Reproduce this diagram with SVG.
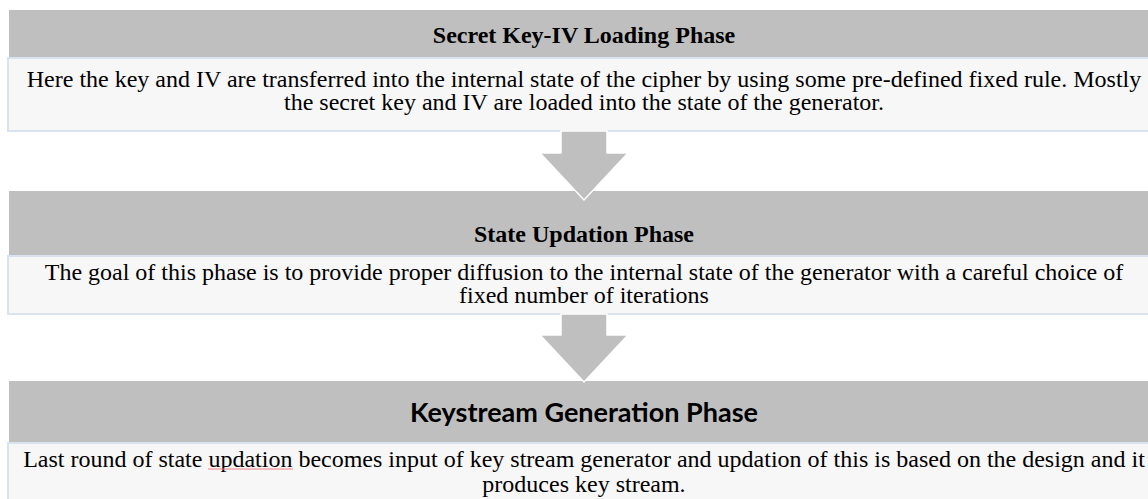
<svg xmlns="http://www.w3.org/2000/svg" width="1148" height="499" viewBox="0 0 1148 499">
<style>
.hdr{fill:#bfbfbf}
.body{fill:#f7f7f7;stroke:#d9e3f0;stroke-width:2}
.t{font-family:"Liberation Serif","Times New Roman",serif;font-size:24px;font-weight:bold;fill:#000;text-anchor:middle}
.t3{font-family:Lato,"Liberation Sans",sans-serif;font-size:27px;font-weight:bold;fill:#000;text-anchor:middle}
.b{font-family:"Liberation Serif","Times New Roman",serif;font-size:24px;fill:#000;text-anchor:middle}
.arr{fill:#bfbfbf;stroke:#ffffff;stroke-width:1.5;stroke-linejoin:miter}
</style>
<rect width="1148" height="499" fill="#ffffff"/>
<g id="node1">
<rect class="hdr" x="9" y="10" width="1150" height="48"/>
<rect class="body" x="8" y="58" width="1150" height="73"/>
<text class="t" x="584" y="43">Secret Key-IV Loading Phase</text>
<text class="b" x="584" y="86.5">Here the key and IV are transferred into the internal state of the cipher by using some pre-defined fixed rule. Mostly</text>
<text class="b" x="584" y="109.5">the secret key and IV are loaded into the state of the generator.</text>
</g>
<g id="node2">
<rect class="hdr" x="9" y="191" width="1150" height="65"/>
<rect class="body" x="8" y="256" width="1150" height="58"/>
<text class="t" x="584" y="242">State Updation Phase</text>
<text class="b" x="584" y="280">The goal of this phase is to provide proper diffusion to the internal state of the generator with a careful choice of</text>
<text class="b" x="584" y="303">fixed number of iterations</text>
</g>
<g id="node3">
<rect class="hdr" x="9" y="381" width="1150" height="62"/>
<rect class="body" x="8" y="443" width="1150" height="70"/>
<text class="t3" x="584" y="422">Keystream Generation Phase</text>
<text class="b" x="584" y="467">Last round of state updation becomes input of key stream generator and updation of this is based on the design and it</text>
<text class="b" x="584" y="492">produces key stream.</text>
<line x1="208" y1="469" x2="293" y2="469" stroke="#f08080" stroke-width="1"/>
</g>
<g id="connectors">
<path class="arr" d="M561,131 L607,131 L607,153 L628,153 L584,200 L540,153 L561,153 Z"/>
<path class="arr" d="M561,314 L607,314 L607,335 L628,335 L584,382 L540,335 L561,335 Z"/>
</g>
</svg>
